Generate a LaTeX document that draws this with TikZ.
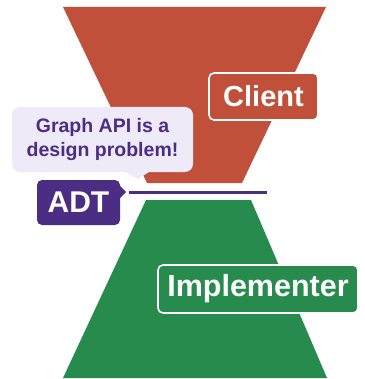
\documentclass[tikz,border=0pt]{standalone}
\usepackage{fontspec}
\setmainfont{Liberation Sans}

\definecolor{clientred}{HTML}{C0503A}
\definecolor{implgreen}{HTML}{278B4D}
\definecolor{adtpurple}{HTML}{4B2E83}
\definecolor{bubblebg}{HTML}{EEEAF7}

\begin{document}
\begin{tikzpicture}
    [
        x=1pt, y=-1pt,
        role/.style={draw=white, line width=1.6pt, rounded corners=5pt, text=white,
            inner sep=0pt, font=\bfseries\fontsize{29}{32}\selectfont},
        adtbox/.style={fill=adtpurple, rounded corners=5pt, text=white,
            inner sep=0pt, font=\bfseries\fontsize{30}{32}\selectfont},
        bubble/.style={fill=bubblebg, rounded corners=8pt, text=adtpurple, align=center,
            inner sep=0pt, font=\bfseries\fontsize{19.5}{24}\selectfont}
    ]
    \useasboundingbox (0,0) rectangle (364,379);

    % the two halves of the hourglass
    \fill[clientred] (63,7) -- (326,7) -- (242,183) -- (147,183) -- cycle;
    \fill[implgreen] (146,200) -- (251,200) -- (327,378) -- (63,378) -- cycle;

    \node[role, fill=clientred, minimum width=109pt, minimum height=47pt]
        (client) at (263.5,96.5) {Client};
    \node[role, fill=implgreen, minimum width=200pt, minimum height=48pt,
        font=\bfseries\fontsize{30.5}{32}\selectfont]
        (impl) at (258,289) {Implementer};

    % speech bubble
    \node[bubble, minimum width=181pt, minimum height=65pt]
        (note) at (102.5,139.5) {Graph API is a\\design problem!};
    \fill[bubblebg] (122,170) -- (152,170) -- (138,179) -- cycle;

    % the abstraction barrier
    \node[adtbox, minimum width=83pt, minimum height=45pt] (adt) at (78.5,202.5) {ADT};
    \fill[adtpurple] (119,185) -- (126,192) -- (119,199) -- cycle;
    \coordinate (barL) at (129,192);
    \coordinate (barR) at (267,192);
    \draw[adtpurple, line width=3pt] (barL) -- (barR);
\end{tikzpicture}
\end{document}
